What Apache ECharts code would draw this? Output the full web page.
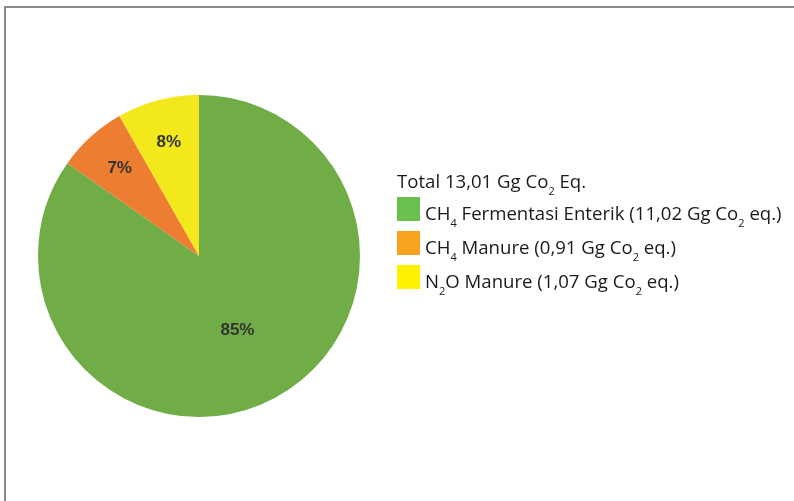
<!DOCTYPE html>
<html>
<head>
<meta charset="utf-8">
<script src="https://cdn.jsdelivr.net/npm/echarts@6/dist/echarts.min.js"></script>
<style>
  html, body { margin: 0; padding: 0; background: #fff; }
  #frame { position: absolute; left: 4px; top: 6px; width: 800px; height: 500px;
           border-left: 2px solid #8a8a8a; border-top: 2px solid #8a8a8a; }
  #chart { position: absolute; left: 0; top: 0; width: 794px; height: 501px; }
</style>
</head>
<body>
<div id="frame"></div>
<div id="chart"></div>
<script>
// ---- data ----
const categories = ['CH4 Fermentasi Enterik', 'CH4 Manure', 'N2O Manure'];
const values = [11.02, 0.91, 1.07];
const legendTexts = [
  '{t|CH}{s|4}{t| Fermentasi Enterik (11,02 Gg Co}{s|2}{t| eq.)}',
  '{t|CH}{s|4}{t| Manure (0,91 Gg Co}{s|2}{t| eq.)}',
  '{t|N}{s|2}{t|O Manure (1,07 Gg Co}{s|2}{t| eq.)}'
];
const totalText = '{t|Total 13,01 Gg Co}{s|2}{t| Eq.}';
const sliceColors = ['#70AD47', '#ED7D31', '#F2E81C'];
const legendColors = ['#6BBF4C', '#F8A21D', '#FFF200'];

const FONT = 'Open Sans';
const rich = {
  t: { fontFamily: FONT, fontSize: 18.6, fontWeight: 'normal', lineHeight: 24, color: '#1a1a1a', verticalAlign: 'top' },
  s: { fontFamily: FONT, fontSize: 11, fontWeight: 'normal', lineHeight: 12, color: '#1a1a1a', padding: [13, 0, 0, 0], verticalAlign: 'top' }
};

const pieData = categories.map((c, i) => ({ name: c, value: values[i], itemStyle: { color: sliceColors[i] } }));
const labelFmt = p => Math.round(p.percent) + '%';
const labelStyle = { fontFamily: 'Liberation Sans', fontSize: 17, fontWeight: 'bold', color: '#333333' };

const chart = echarts.init(document.getElementById('chart'), null, { renderer: 'canvas' });
chart.setOption({
  backgroundColor: 'transparent',
  animation: false,
  title: {
    text: totalText,
    left: 397, top: 173,
    padding: 0,
    textStyle: { rich: rich }
  },
  legend: {
    orient: 'vertical',
    left: 397, top: 197,
    padding: 0,
    itemWidth: 23, itemHeight: 24, itemGap: 2,
    icon: 'rect',
    selectedMode: false,
    data: categories.map((c, i) => ({ name: c, itemStyle: { color: legendColors[i] } })),
    formatter: name => legendTexts[categories.indexOf(name)],
    textStyle: { rich: rich, padding: [16, 0, 0, 0] }
  },
  series: [
    {
      type: 'pie',
      center: [199, 256],
      radius: [0, 161],
      startAngle: 90,
      clockwise: true,
      silent: true,
      data: pieData.map((d, i) => Object.assign({}, d, { label: { show: i === 0 } })),
      label: Object.assign({ position: 'inside', formatter: labelFmt }, labelStyle),
      labelLine: { show: false },
      itemStyle: { borderWidth: 0 }
    },
    {
      type: 'pie',
      center: [199, 256],
      radius: [0, 230],
      startAngle: 90,
      clockwise: true,
      silent: true,
      z: 3,
      legendHoverLink: false,
      data: pieData.map((d, i) => ({ name: d.name, value: d.value,
        itemStyle: { color: 'rgba(0,0,0,0)' }, label: { show: i !== 0 } })),
      label: Object.assign({ position: 'inside', formatter: labelFmt }, labelStyle),
      labelLine: { show: false }
    }
  ]
});
</script>
</body>
</html>
